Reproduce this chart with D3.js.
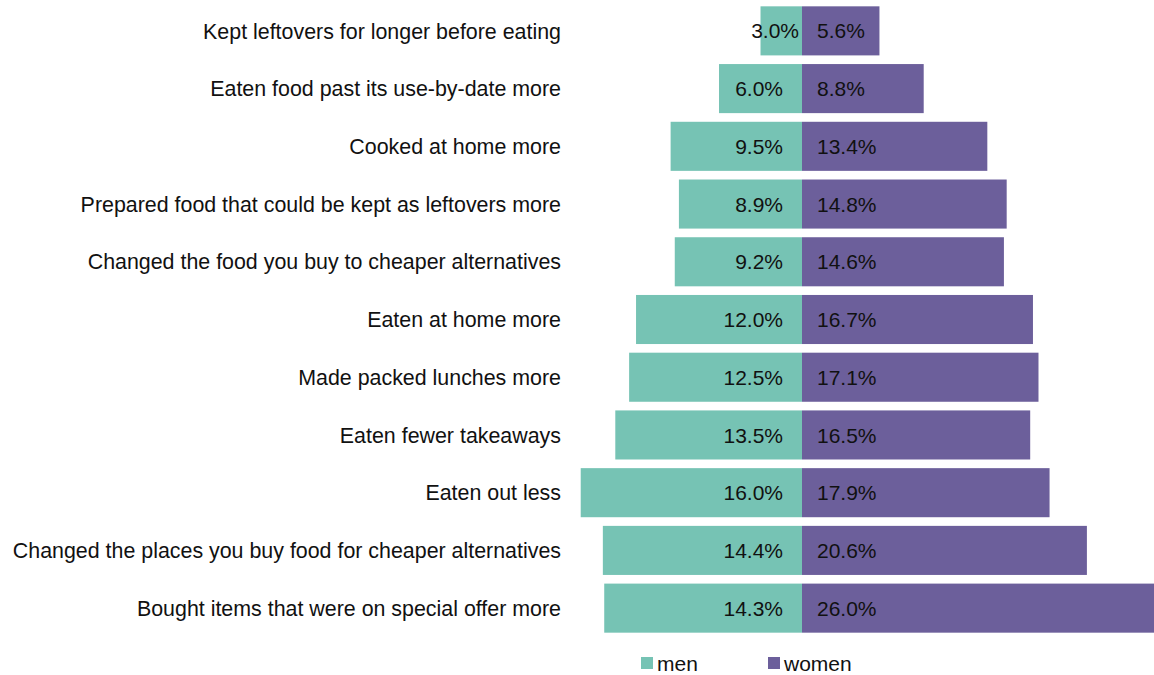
<!DOCTYPE html>
<html>
<head>
<meta charset="utf-8">
<script src="https://cdn.jsdelivr.net/npm/d3@7"></script>
<style>
    body { margin: 0; background: #fff; }
    text { font-family: "Liberation Sans", Arial, sans-serif; fill: #111; }
</style>
</head>
<body>
<div id="chart"></div>
<script>
const categories = [
    "Kept leftovers for longer before eating",
    "Eaten food past its use-by-date more",
    "Cooked at home more",
    "Prepared food that could be kept as leftovers more",
    "Changed the food you buy to cheaper alternatives",
    "Eaten at home more",
    "Made packed lunches more",
    "Eaten fewer takeaways",
    "Eaten out less",
    "Changed the places you buy food for cheaper alternatives",
    "Bought items that were on special offer more"
];
const menValues = [3.0, 6.0, 9.5, 8.9, 9.2, 12.0, 12.5, 13.5, 16.0, 14.4, 14.3];
const womenValues = [5.6, 8.8, 13.4, 14.8, 14.6, 16.7, 17.1, 16.5, 17.9, 20.6, 26.0];
const seriesNames = ["men", "women"];
const seriesColours = ["#76c3b4", "#6c5f9b"];

const width = 1154, height = 675;

const svg = d3.select("#chart").append("svg")
    .attr("width", width)
    .attr("height", height);

const rows = categories.map((c, i) => ({cat: c, men: menValues[i], women: womenValues[i]}));

// x: percentage -> pixels, zero in the middle of the bars
const x = d3.scaleLinear()
    .domain([-25, 25])
    .range([802 - 25 * 13.83, 802 + 25 * 13.83]);

const y = d3.scaleBand()
    .domain(categories)
    .range([2, 637])
    .paddingInner(0.15)
    .paddingOuter(0.075);

const colour = d3.scaleOrdinal().domain(seriesNames).range(seriesColours);
const fmt = d => d.toFixed(1) + "%";

// men bars (left)
svg.selectAll(".bar-men")
    .data(rows)
    .join("rect")
    .attr("class", "bar-men")
    .attr("x", d => x(-d.men))
    .attr("y", d => y(d.cat))
    .attr("width", d => x(0) - x(-d.men))
    .attr("height", y.bandwidth())
    .attr("fill", colour("men"));

// women bars (right)
svg.selectAll(".bar-women")
    .data(rows)
    .join("rect")
    .attr("class", "bar-women")
    .attr("x", x(0))
    .attr("y", d => y(d.cat))
    .attr("width", d => x(d.women) - x(0))
    .attr("height", y.bandwidth())
    .attr("fill", colour("women"));

// value labels (short bars get the label pushed against the middle)
svg.selectAll(".val-men")
    .data(rows)
    .join("text")
    .attr("class", "val-men")
    .attr("x", d => (x(0) - x(-d.men)) < 60 ? x(0) - 3 : x(0) - 19)
    .attr("y", d => y(d.cat) + y.bandwidth() / 2)
    .attr("dy", "0.36em")
    .attr("text-anchor", "end")
    .style("font-size", "21px")
    .text(d => fmt(d.men));

svg.selectAll(".val-women")
    .data(rows)
    .join("text")
    .attr("class", "val-women")
    .attr("x", x(0) + 15)
    .attr("y", d => y(d.cat) + y.bandwidth() / 2)
    .attr("dy", "0.36em")
    .attr("text-anchor", "start")
    .style("font-size", "21px")
    .text(d => fmt(d.women));

// category labels
svg.selectAll(".cat-label")
    .data(rows)
    .join("text")
    .attr("class", "cat-label")
    .attr("x", 561)
    .attr("y", d => y(d.cat) + y.bandwidth() / 2)
    .attr("dy", "0.36em")
    .attr("text-anchor", "end")
    .style("font-size", "21.4px")
    .text(d => d.cat);

// legend
const legend = svg.append("g")
    .attr("class", "legend")
    .attr("transform", "translate(641, 657)");

const legendX = [0, 127];

legend.selectAll(".square")
    .data(seriesNames)
    .join("rect")
    .attr("class", "square")
    .attr("x", (d, i) => legendX[i])
    .attr("y", 0)
    .attr("width", 12)
    .attr("height", 12)
    .attr("fill", d => colour(d));

legend.selectAll(".legend-label")
    .data(seriesNames)
    .join("text")
    .attr("class", "legend-label")
    .attr("x", (d, i) => legendX[i] + 16)
    .attr("y", 6)
    .attr("dy", "0.36em")
    .style("font-size", "21px")
    .text(d => d);
</script>
</body>
</html>
